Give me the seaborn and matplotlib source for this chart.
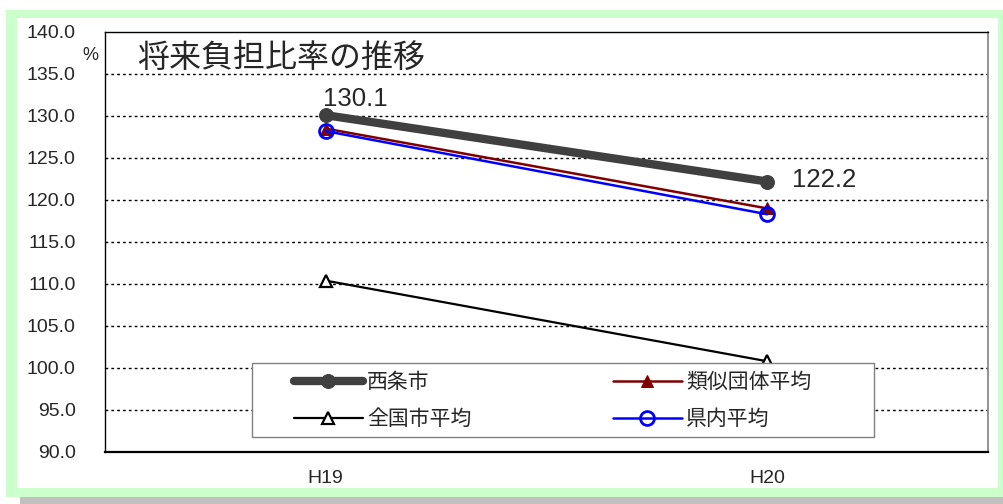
import matplotlib
matplotlib.use("Agg")
import matplotlib.pyplot as plt
from matplotlib.patches import Rectangle
import seaborn as sns

# data
years = ['H19', 'H20']
saijo = [130.1, 122.2]      # 西条市
ruiji = [128.5, 119.0]      # 類似団体平均
zenkoku = [110.4, 100.8]    # 全国市平均
kennai = [128.2, 118.3]     # 県内平均
y_ticks = [90, 95, 100, 105, 110, 115, 120, 125, 130, 135, 140]

sns.set_style("white")
plt.rcParams['font.family'] = ['Liberation Sans', 'Noto Sans CJK JP', 'DejaVu Sans']

W, H = 1004, 504
fig = plt.figure(figsize=(W / 100, H / 100), dpi=100)
fig.patch.set_facecolor('white')

# frame: green border, white inner panel, grey shadow at the bottom
fig.add_artist(Rectangle((6 / W, 7 / H), 998 / W, 487 / H, transform=fig.transFigure,
                         facecolor='#CCFFCC', edgecolor='none', zorder=-3))
fig.add_artist(Rectangle((17 / W, 16 / H), 981 / W, 470 / H, transform=fig.transFigure,
                         facecolor='white', edgecolor='none', zorder=-2))
fig.add_artist(Rectangle((20 / W, 0), 984 / W, 7 / H, transform=fig.transFigure,
                         facecolor='#C0C0C0', edgecolor='none', zorder=-3))

ax = fig.add_axes([105 / W, 52 / H, 883 / W, 420 / H])
ax.set_facecolor('white')

sns.lineplot(x=years, y=zenkoku, ax=ax, color='black', lw=1.6, marker='^', ms=8,
             mfc='white', mec='black', mew=1.6, label='全国市平均')
sns.lineplot(x=years, y=ruiji, ax=ax, color='#800000', lw=1.8, marker='^', ms=9,
             mfc='#800000', mec='#800000', label='類似団体平均')
sns.lineplot(x=years, y=kennai, ax=ax, color='#0000FF', lw=1.8, marker='o', ms=10,
             mfc='none', mec='#0000FF', mew=2, label='県内平均')
sns.lineplot(x=years, y=saijo, ax=ax, color='#404040', lw=6, marker='o', ms=10,
             mfc='#404040', mec='#404040', label='西条市')

ax.set_xlim(-0.5, 1.5)
ax.set_ylim(y_ticks[0], y_ticks[-1])
ax.set_yticks(y_ticks)
ax.set_yticklabels([f'{v:.1f}' for v in y_ticks])
ax.set_xticks([0, 1])
ax.set_xticklabels(years)
ax.set_xticks([0.5], minor=True)
ax.tick_params(axis='y', length=0, pad=21, labelsize=14)
ax.tick_params(axis='x', which='major', length=0, pad=13, labelsize=14)
ax.tick_params(axis='x', which='minor', direction='in', length=5, width=0.8, color='#606060')
ax.set_xlabel('')
ax.set_ylabel('')

for v in y_ticks[1:-1]:
    ax.axhline(v, color='black', lw=1, ls=(0, (2, 2.2)), zorder=0)

for side in ['top', 'left']:
    ax.spines[side].set_color('black')
    ax.spines[side].set_linewidth(1)
ax.spines['right'].set_color('#808080')
ax.spines['right'].set_linewidth(1.2)
ax.spines['bottom'].set_color('black')
ax.spines['bottom'].set_linewidth(1.6)

# title and unit
ax.text((137 - 105) / 883, (452 - 58) / 420, '将来負担比率の推移', transform=ax.transAxes,
        fontsize=23, va='center', ha='left', family=['Noto Sans CJK JP'])
ax.text(-0.008, (452 - 55) / 420, '%', transform=ax.transAxes,
        fontsize=13, va='center', ha='right')

# data labels for 西条市
ax.annotate(f'{saijo[0]:.1f}', (years[0], saijo[0]), xytext=(-2, 6.5), textcoords='offset points',
            fontsize=18.5, ha='left', va='baseline')
ax.annotate(f'{saijo[1]:.1f}', (years[1], saijo[1]), xytext=(18, 1), textcoords='offset points',
            fontsize=18.5, ha='left', va='center')

# legend with its own box
ax.add_patch(Rectangle(((252 - 105) / 883, (452 - 437) / 420), 622 / 883, 74 / 420,
                       transform=ax.transAxes, facecolor='white', edgecolor='#808080',
                       lw=1, zorder=5))
lines = {l.get_label(): l for l in ax.get_lines()}
order = ['西条市', '全国市平均', '類似団体平均', '県内平均']
leg = ax.legend([lines[k] for k in order], order, ncol=2, loc='upper left',
                bbox_to_anchor=((294 - 105) / 883, (452 - 371) / 420),
                frameon=False, handlelength=3.3, handletextpad=0.2,
                columnspacing=6.8, labelspacing=0.72, borderpad=0, borderaxespad=0,
                prop={'family': ['Noto Sans CJK JP'], 'size': 15})
leg.set_zorder(6)

fig.savefig('out.png', dpi=100)
